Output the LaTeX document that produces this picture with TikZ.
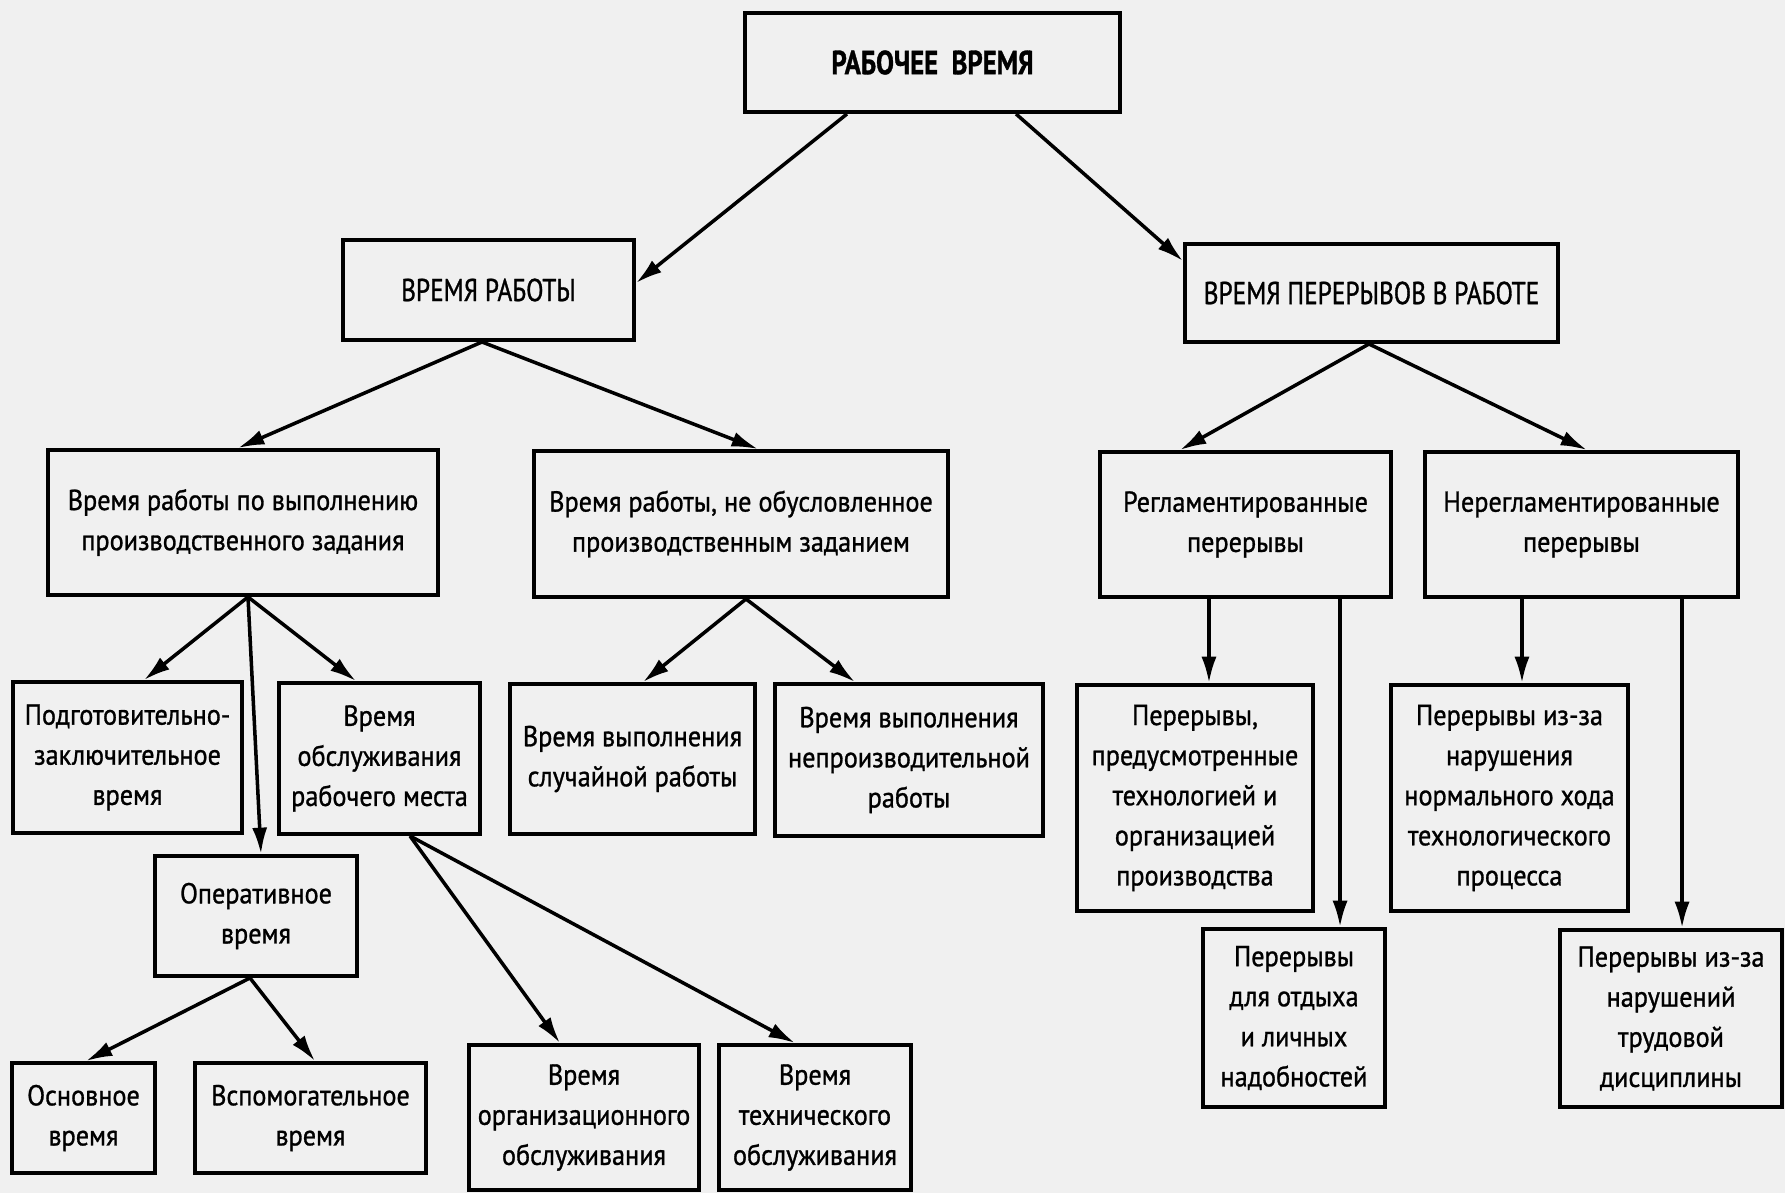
\documentclass[tikz,border=0pt]{standalone}
\usepackage{fontspec}
\setmainfont[FakeStretch=0.91,FakeBold=1]{PT Sans}
\newfontfamily\headfont[FakeStretch=0.8,FakeBold=1]{PT Sans}
\usetikzlibrary{arrows.meta,calc}
\tikzset{
	blk/.style={draw, line width=1.1pt, inner sep=0pt, align=center, font=\fontsize{8.2}{11.4}\selectfont},
	head/.style={blk, font=\headfont\fontsize{9}{11.4}\selectfont},
	arr/.style={-{Latex[length=7.5pt,width=4.3pt]}, line width=1pt}
}

\begin{document}
\begin{tikzpicture}[x=0.01cm, y=-0.01cm]
			%%%%% START %%%%%
			\fill[black!6] (0,0) rectangle (1785,1193);
			\useasboundingbox (0,0) rectangle (1785,1193);
			
			% top levels
			\node[head, font=\headfont\fontsize{9.5}{11.4}\selectfont\bfseries, minimum width=3.75cm, minimum height=0.99cm] (rv) at (932.5,62.5) {РАБОЧЕЕ\ \ ВРЕМЯ};
			\node[head, minimum width=2.91cm, minimum height=1cm] (vr) at (488.5,290) {ВРЕМЯ РАБОТЫ};
			\node[head, minimum width=3.73cm, minimum height=0.98cm] (vp) at (1371.5,293) {ВРЕМЯ ПЕРЕРЫВОВ В РАБОТЕ};
			
			\node[blk, minimum width=3.9cm, minimum height=1.45cm] (vpz) at (243,522.5) {Время работы по выполнению\\производственного задания};
			\node[blk, minimum width=4.14cm, minimum height=1.46cm] (vnz) at (741,524) {Время работы, не обусловленное\\производственным заданием};
			\node[blk, minimum width=2.91cm, minimum height=1.45cm] (reg) at (1245.5,524.5) {Регламентированные\\перерывы};
			\node[blk, minimum width=3.13cm, minimum height=1.45cm] (nereg) at (1581.5,524.5) {Нерегламентированные\\перерывы};
			
			% third row
			\node[blk, minimum width=2.29cm, minimum height=1.51cm] (pz) at (127.5,757.5) {Подготовительно-\\заключительное\\время};
			\node[blk, minimum width=2.01cm, minimum height=1.51cm] (orm) at (379.5,758.5) {Время\\обслуживания\\рабочего места};
			\node[blk, minimum width=2.45cm, minimum height=1.5cm] (slr) at (632.5,759) {Время выполнения\\случайной работы};
			\node[blk, minimum width=2.68cm, minimum height=1.52cm] (npr) at (909,760) {Время выполнения\\непроизводительной\\работы};
			\node[blk, minimum width=2.36cm, minimum height=2.26cm] (ptp) at (1195,798) {Перерывы,\\предусмотренные\\технологией и\\организацией\\производства};
			\node[blk, minimum width=2.37cm, minimum height=2.26cm] (pnh) at (1509.5,798) {Перерывы из-за\\нарушения\\нормального хода\\технологического\\процесса};
			
			\node[blk, minimum width=2.02cm, minimum height=1.2cm] (op) at (256,916) {Оперативное\\время};
			\node[blk, minimum width=1.82cm, minimum height=1.78cm] (potd) at (1294,1018) {Перерывы\\для отдыха\\и личных\\надобностей};
			\node[blk, minimum width=2.22cm, minimum height=1.77cm] (ptd) at (1671,1018.5) {Перерывы из-за\\нарушений\\трудовой\\дисциплины};
			
			% bottom row
			\node[blk, minimum width=1.43cm, minimum height=1.1cm] (osn) at (83.5,1118) {Основное\\время};
			\node[blk, minimum width=2.31cm, minimum height=1.1cm] (vsp) at (310.5,1118) {Вспомогательное\\время};
			\node[blk, minimum width=2.3cm, minimum height=1.45cm] (oo) at (584,1117.5) {Время\\организационного\\обслуживания};
			\node[blk, minimum width=1.92cm, minimum height=1.45cm] (to) at (815,1117.5) {Время\\технического\\обслуживания};
			
			% arrows
			\draw[arr] ([xshift=-0.855cm]rv.south) -- ([yshift=0.07cm]vr.east);
			\draw[arr] ([xshift=0.835cm]rv.south) -- ([yshift=0.32cm]vp.west);
			
			\draw[arr] ([xshift=-0.065cm]vr.south) -- ([xshift=-0.05cm]vpz.north);
			\draw[arr] ([xshift=-0.065cm]vr.south) -- ([xshift=0.17cm]vnz.north);
			\draw[arr] ([xshift=-0.025cm]vp.south) -- ([xshift=-0.655cm]reg.north);
			\draw[arr] ([xshift=-0.025cm]vp.south) -- ([xshift=0.055cm]nereg.north);
			
			\draw[arr] ([xshift=0.05cm]vpz.south) -- ([xshift=0.165cm]pz.north);
			\draw[arr] ([xshift=0.05cm]vpz.south) -- ([xshift=0.05cm]op.north);
			\draw[arr] ([xshift=0.05cm]vpz.south) -- ([xshift=-0.235cm]orm.north);
			\draw[arr] ([xshift=0.05cm]vnz.south) -- ([xshift=0.105cm]slr.north);
			\draw[arr] ([xshift=0.05cm]vnz.south) -- ([xshift=-0.54cm]npr.north);
			
			\draw[arr] ([xshift=-0.365cm]reg.south) -- ([xshift=-0.365cm]reg.south |- ptp.north);
			\draw[arr] ([xshift=0.945cm]reg.south) -- ([xshift=0.945cm]reg.south |- potd.north);
			\draw[arr] ([xshift=-0.595cm]nereg.south) -- ([xshift=-0.595cm]nereg.south |- pnh.north);
			\draw[arr] ([xshift=1.005cm]nereg.south) -- ([xshift=1.005cm]nereg.south |- ptd.north);
			
			\draw[arr] ([xshift=0.305cm]orm.south) -- ([xshift=-0.24cm]oo.north);
			\draw[arr] ([xshift=0.305cm]orm.south) -- ([xshift=-0.2cm]to.north);
			\draw[arr] ([xshift=-0.06cm]op.south) -- ([xshift=0.025cm]osn.north);
			\draw[arr] ([xshift=-0.06cm]op.south) -- ([xshift=0.045cm]vsp.north);
			%%%%% END %%%%%
\end{tikzpicture}
\end{document}
